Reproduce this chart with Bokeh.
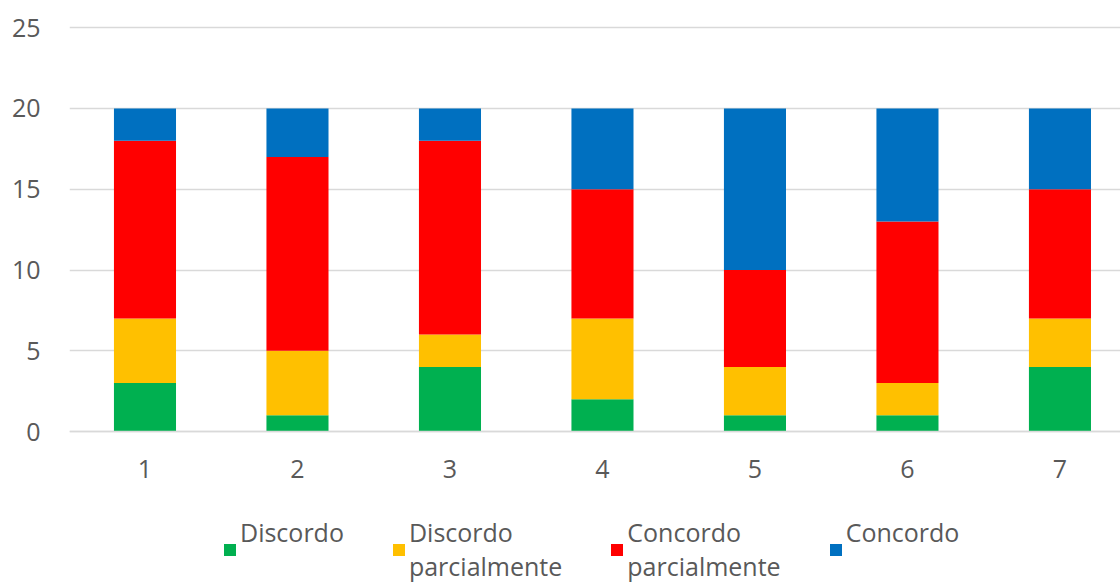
from bokeh.plotting import figure
from bokeh.models import ColumnDataSource, Legend, LegendItem, Range1d, FixedTicker
from bokeh.embed import file_html
from bokeh.resources import INLINE

categories = [1, 2, 3, 4, 5, 6, 7]
discordo = [3, 1, 4, 2, 1, 1, 4]
discordo_parc = [4, 4, 2, 5, 3, 2, 3]
concordo_parc = [11, 12, 12, 8, 6, 10, 8]
concordo = [2, 3, 2, 5, 10, 7, 5]

series = ["discordo", "discordo_parc", "concordo_parc", "concordo"]
labels = ["Discordo\n ", "Discordo\nparcialmente", "Concordo\nparcialmente", "Concordo\n "]
colors = ["#00B050", "#FFC000", "#FF0000", "#0070C0"]
y_ticks = [0, 5, 10, 15, 20, 25]

source = ColumnDataSource(dict(x=categories, discordo=discordo, discordo_parc=discordo_parc,
                               concordo_parc=concordo_parc, concordo=concordo))

FONT = "Open Sans"
TXT = "#595959"
GRID = "#D9D9D9"
FS = "25px"

# the frame reaches the bottom edge so the legend below the axis is not clipped
p = figure(width=1120, height=583, output_backend="svg", toolbar_location=None,
           x_range=Range1d(0.505, 7.397), y_range=Range1d(-9.41, 25.51),
           min_border_left=69, min_border_right=0, min_border_top=19, min_border_bottom=0)
p.outline_line_color = None
p.background_fill_color = "white"

renderers = p.vbar_stack(series, x="x", width=0.407, source=source, color=colors, line_color=None)

p.xgrid.grid_line_color = None
p.ygrid.grid_line_color = GRID
p.ygrid.grid_line_width = 1.3
p.yaxis.ticker = FixedTicker(ticks=y_ticks)
p.xaxis.ticker = FixedTicker(ticks=categories)
p.xaxis.fixed_location = 0

for ax in (p.xaxis, p.yaxis):
    ax.major_tick_line_color = None
    ax.minor_tick_line_color = None
    ax.major_label_text_font = FONT
    ax.major_label_text_font_size = FS
    ax.major_label_text_color = TXT
p.yaxis.axis_line_color = None
p.xaxis.axis_line_color = GRID
p.xaxis.axis_line_width = 1.3
p.xaxis.major_label_standoff = 22
p.yaxis.major_label_standoff = 23

legend = Legend(items=[LegendItem(label=l, renderers=[r]) for l, r in zip(labels, renderers)],
                orientation="horizontal", location=(153, 0))
legend.label_text_font = FONT
legend.label_text_font_size = FS
legend.label_text_color = TXT
legend.glyph_width = 15
legend.glyph_height = 15
legend.label_standoff = 3
legend.spacing = 47
legend.border_line_color = None
legend.background_fill_alpha = 0
legend.padding = 0
legend.margin = 0
p.add_layout(legend, "center")

open("out.html", "w").write(file_html(p, INLINE))
